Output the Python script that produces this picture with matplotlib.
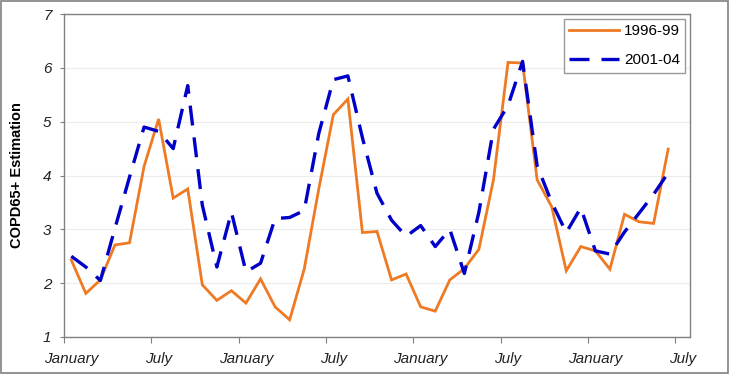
import numpy as np
import matplotlib
matplotlib.use("Agg")
import matplotlib.pyplot as plt
from matplotlib.patches import Rectangle

plt.rcParams['font.family'] = ['Liberation Sans', 'DejaVu Sans']

# monthly estimates, starting in January (42 months)
copd_1996_99 = [2.43, 1.81, 2.06, 2.71, 2.75, 4.17, 5.05, 3.58, 3.75, 1.97,
                1.68, 1.86, 1.63, 2.08, 1.56, 1.32, 2.26, 3.75, 5.13, 5.42,
                2.94, 2.96, 2.06, 2.17, 1.56, 1.48, 2.06, 2.27, 2.63, 3.92,
                6.10, 6.09, 3.92, 3.42, 2.23, 2.68, 2.60, 2.26, 3.28, 3.14,
                3.11, 4.49]
copd_2001_04 = [2.50, 2.30, 2.05, 3.02, 3.97, 4.90, 4.82, 4.50, 5.67, 3.45,
                2.30, 3.32, 2.21, 2.37, 3.20, 3.22, 3.35, 4.78, 5.78, 5.85,
                4.70, 3.67, 3.17, 2.87, 3.07, 2.68, 3.00, 2.18, 3.32, 4.86,
                5.30, 6.12, 4.18, 3.50, 2.94, 3.40, 2.60, 2.54, 2.95, 3.30,
                3.65, 4.05]
month_labels = ["January", "July", "January", "July", "January", "July", "January", "July"]
n_categories = 43

fig = plt.figure(figsize=(7.29, 3.74), dpi=100)
ax = fig.add_axes([64 / 729, 37 / 374, 626 / 729, 323 / 374])

x = np.arange(len(copd_1996_99))
ax.plot(x, copd_1996_99, color='#EE7A24', lw=2.0, label='1996-99', solid_joinstyle='miter')
ax.plot(np.arange(len(copd_2001_04)), copd_2001_04, color='#0000C8', lw=2.4,
        dashes=(6, 3.6), label='2001-04', dash_capstyle='butt')

ax.set_xlim(-0.5, n_categories - 0.5)
ax.set_ylim(1, 7)
ax.set_yticks(range(1, 8))
ax.yaxis.grid(True, color='#ececec', lw=0.8)
ax.set_axisbelow(True)

# tick marks sit between categories, labels on the category itself
label_pos = np.arange(0, n_categories, 6)
ax.set_xticks(label_pos - 0.5)
ax.set_xticklabels([])
ax.set_xticks(label_pos, minor=True)
ax.set_xticklabels(month_labels, minor=True, fontstyle='italic', fontsize=11, color='#222222')
ax.tick_params(axis='x', which='major', length=4, color='#808080', direction='out')
ax.tick_params(axis='x', which='minor', length=0, pad=11)
ax.tick_params(axis='y', length=3, color='#808080', pad=6, labelsize=11, labelcolor='#222222')
for lab in ax.get_yticklabels():
    lab.set_fontstyle('italic')

for sp in ax.spines.values():
    sp.set_color('#808080')
    sp.set_linewidth(1.0)

ax.set_ylabel("COPD65+ Estimation", fontweight='bold', fontsize=10.5, labelpad=14)

leg = ax.legend(loc='upper right', fontsize=11, frameon=True, fancybox=False,
                edgecolor='#808080', handlelength=3.3, handletextpad=0.3,
                borderaxespad=0.3, labelspacing=1.0, borderpad=0.35)
leg.get_frame().set_linewidth(1.0)

# thin frame round the whole picture
fig.patches.append(Rectangle((0.001, 0.002), 0.997, 0.995, transform=fig.transFigure,
                             fill=False, edgecolor='#808080', lw=1.2))

plt.savefig("out.png", dpi=100)
plt.close()
